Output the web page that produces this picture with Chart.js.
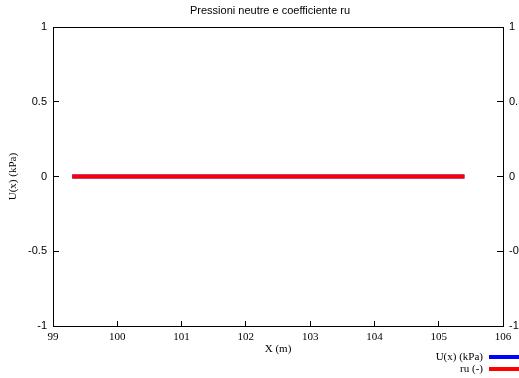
<!DOCTYPE html>
<html>
<head>
<meta charset="utf-8">
<script src="https://cdn.jsdelivr.net/npm/chart.js@4/dist/chart.umd.min.js"></script>
<style>
  body { margin: 0; background: #fff; }
  #wrap { width: 519px; height: 378px; overflow: hidden; }
</style>
</head>
<body>
<div id="wrap"><canvas id="chart" width="540" height="378"></canvas></div>
<script>
/* DATA */
let chart_title = "Pressioni neutre e coefficiente ru";
let x_label = "X (m)";
let y_label = "U(x) (kPa)";
let series_names = ["U(x) (kPa)", "ru (-)"];
let series_colors = ["#0000ff", "#ff0000"];
let x_values = [99.3, 105.4];
let u_values = [0, 0];
let ru_values = [0, 0];

/* helpers */
function to_points(xs, ys) {
  return xs.map((x, i) => ({ x: x, y: ys[i] }));
}

// legend drawn at the bottom right, text left of the line
const side_legend = {
  id: "side_legend",
  afterDraw(chart) {
    const ctx = chart.ctx;
    ctx.save();
    ctx.font = "11px 'Liberation Serif'";
    ctx.textAlign = "right";
    ctx.textBaseline = "middle";
    ctx.fillStyle = "#000";
    series_names.forEach((name, i) => {
      let y = 357 + i * 12;
      ctx.fillText(name, 483, y);
      ctx.strokeStyle = series_colors[i];
      ctx.lineWidth = 4;
      ctx.beginPath();
      ctx.moveTo(489, y);
      ctx.lineTo(519, y);
      ctx.stroke();
    });
    ctx.restore();
  }
};

const chart_dom = document.getElementById("chart").getContext("2d");

const axis_grid = { drawOnChartArea: false, drawTicks: true, color: "#000", tickColor: "#000", tickLength: -6, tickWidth: 1 };
const axis_border = { display: true, color: "#000", width: 1 };
const plain_number = value => String(value);

const mainChart = new Chart(chart_dom, {
  type: "line",
  data: {
    datasets: [
      {
        label: series_names[0],
        data: to_points(x_values, u_values),
        borderColor: series_colors[0],
        borderWidth: 4,
        pointRadius: 0,
        fill: false,
        tension: 0,
        order: 2
      },
      {
        label: series_names[1],
        data: to_points(x_values, ru_values),
        borderColor: series_colors[1],
        borderWidth: 4,
        pointRadius: 0,
        fill: false,
        tension: 0,
        order: 1
      }
    ]
  },
  options: {
    responsive: false,
    animation: false,
    layout: { padding: 0 },
    plugins: {
      legend: { display: false },
      tooltip: { enabled: false },
      title: {
        display: true,
        text: chart_title,
        color: "#000",
        font: { family: "'Liberation Sans'", size: 11, weight: "normal" },
        padding: { top: 4, bottom: 10 }
      }
    },
    scales: {
      x: {
        type: "linear",
        position: "bottom",
        min: 99,
        max: 106,
        grid: Object.assign({}, axis_grid, { tickLength: -5 }),
        border: axis_border,
        ticks: {
          stepSize: 1,
          autoSkip: false,
          maxRotation: 0,
          padding: 10,
          color: "#000",
          font: { family: "'Liberation Serif'", size: 11 },
          callback: plain_number
        },
        title: {
          display: true,
          text: x_label,
          color: "#000",
          font: { family: "'Liberation Serif'", size: 11 },
          padding: { top: 0, bottom: 22 }
        },
        afterFit(scale) { scale.height = 52; }
      },
      x_top: {
        type: "linear",
        position: "top",
        min: 99,
        max: 106,
        grid: { display: false },
        border: axis_border,
        ticks: { display: false },
        afterFit(scale) { scale.height = 0; }
      },
      y: {
        type: "linear",
        position: "left",
        min: -1,
        max: 1,
        grid: axis_grid,
        border: axis_border,
        ticks: {
          stepSize: 0.5,
          padding: 12,
          color: "#000",
          font: { family: "'Liberation Sans'", size: 11 },
          callback: plain_number
        },
        title: {
          display: true,
          text: y_label,
          color: "#000",
          font: { family: "'Liberation Serif'", size: 11 },
          padding: { top: 7, bottom: 0 }
        },
        afterFit(scale) { scale.width = 53; }
      },
      y_right: {
        type: "linear",
        position: "right",
        min: -1,
        max: 1,
        grid: axis_grid,
        border: axis_border,
        ticks: {
          stepSize: 0.5,
          padding: 12,
          color: "#000",
          font: { family: "'Liberation Sans'", size: 11 },
          callback: plain_number
        },
        afterFit(scale) { scale.width = 37; }
      }
    }
  },
  plugins: [side_legend]
});
</script>
</body>
</html>
